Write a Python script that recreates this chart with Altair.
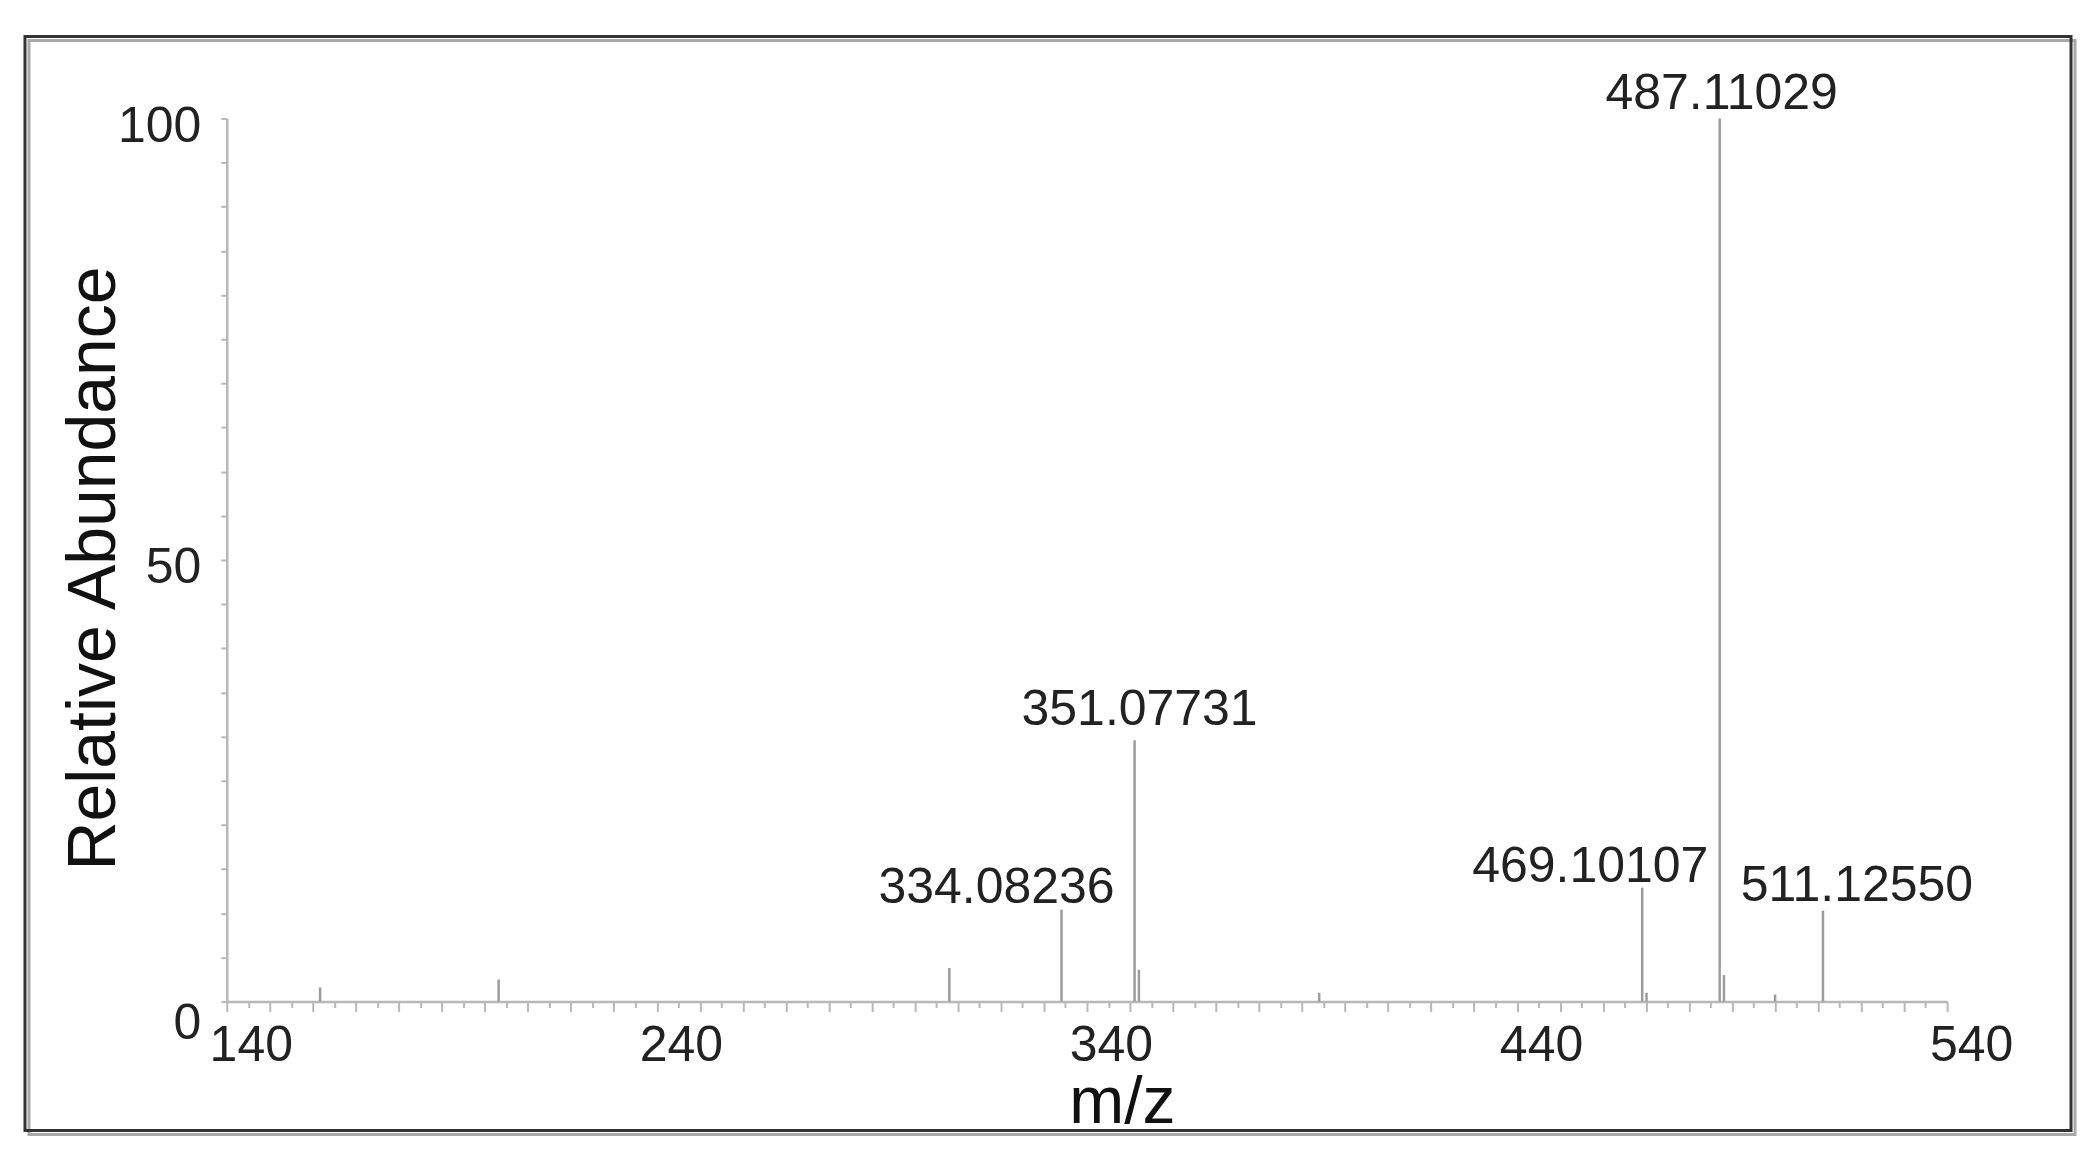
import altair as alt
import pandas as pd

# Spectrum peaks
mz = [161.7, 203.2, 308.0, 334.08236, 351.07731, 352.08, 394.0, 469.10107, 470.1, 487.11029, 488.11, 500.0, 511.1255]
abundance = [1.6, 2.5, 3.8, 10.4, 29.6, 3.6, 1.0, 12.9, 1.0, 100.0, 3.0, 0.8, 10.3]

# Annotated peaks
label_mz = [334.08236, 351.07731, 469.10107, 487.11029, 511.1255]
label_ab = [10.4, 29.6, 12.9, 100.0, 10.3]
label_text = ["334.08236", "351.07731", "469.10107", "487.11029", "511.12550"]

x_ticks = list(range(140, 545, 5))
y_ticks = list(range(0, 105, 5))

FONT = "Liberation Sans"
AX = "#b8b8b8"

peaks = pd.DataFrame({"mz": mz, "ab": abundance})
labels = pd.DataFrame({"mz": label_mz, "ab": label_ab, "label": label_text})

x_axis = alt.Axis(
    values=x_ticks,
    labelExpr="(datum.value - 140) % 100 == 0 ? datum.label : ''",
    labelOverlap=False, labelBound=False, labelFlush=False,
    labelFont=FONT, labelFontSize=50, labelColor="#222222",
    labelOffset=24, labelPadding=9,
    tickSize={"condition": {"test": "datum.value % 10 == 0", "value": 10}, "value": 6},
    tickColor=AX, tickWidth=2, domainColor=AX, domainWidth=2.5, grid=False,
    title="m/z", titleFont=FONT, titleFontSize=66, titleFontWeight="normal",
    titleColor="#111111", titleX=896, titleY=121, titleBaseline="alphabetic",
)
y_axis = alt.Axis(
    values=y_ticks,
    labelExpr="datum.value % 50 == 0 ? datum.label : ''",
    labelOverlap=False, labelBound=False, labelFlush=False,
    labelFont=FONT, labelFontSize=50, labelColor="#222222",
    labelPadding=20,
    labelOffset={"condition": {"test": "datum.value == 0", "value": 22}, "value": 8},
    tickSize=6, tickColor=AX, tickWidth=2, domainColor=AX, domainWidth=2.5, grid=False,
    title="Relative Abundance", titleFont=FONT, titleFontSize=68, titleFontWeight="normal",
    titleColor="#111111", titleAngle=270, titleX=-112, titleY=450,
    titleBaseline="alphabetic", titleAlign="center",
)

X = alt.X("mz:Q", scale=alt.Scale(domain=[140, 540], nice=False, zero=False), axis=x_axis)
Y = alt.Y("ab:Q", scale=alt.Scale(domain=[0, 100], nice=False), axis=y_axis)

blank = alt.Data(values=[{}])
shadow = alt.Chart(blank).mark_rect(fillOpacity=0, stroke="#a8a8a8", strokeWidth=3, clip=False).encode(
    x=alt.value(-198), x2=alt.value(1850), y=alt.value(-78), y2=alt.value(1017)
)
frame = alt.Chart(blank).mark_rect(fillOpacity=0, stroke="#333333", strokeWidth=3, clip=False).encode(
    x=alt.value(-202), x2=alt.value(1846), y=alt.value(-82), y2=alt.value(1013)
)

rules = alt.Chart(peaks).mark_rule(color="#9c9c9c", strokeWidth=2.5).encode(
    x=X, y=Y, y2=alt.datum(0)
)

label_style = {
    "334.08236": (-65, -7),
    "351.07731": (5, -15),
    "469.10107": (-52, -6),
    "487.11029": (2, -9),
    "511.12550": (34, -10),
}
texts = []
for lab, (dx, dy) in label_style.items():
    texts.append(
        alt.Chart(labels).transform_filter(alt.datum.label == lab)
        .mark_text(font=FONT, fontSize=50, color="#222222", baseline="alphabetic",
                   align="center", dx=dx, dy=dy)
        .encode(x=X, y=Y, text="label:N")
    )

chart = alt.layer(shadow, frame, rules, *texts).properties(
    width=1722, height=884,
    autosize="none",
    padding={"left": 219, "top": 110, "right": 135, "bottom": 138},
    background="white",
).configure_view(stroke=None)

chart.save("out.html", embed_options={"renderer": "svg", "actions": False})
